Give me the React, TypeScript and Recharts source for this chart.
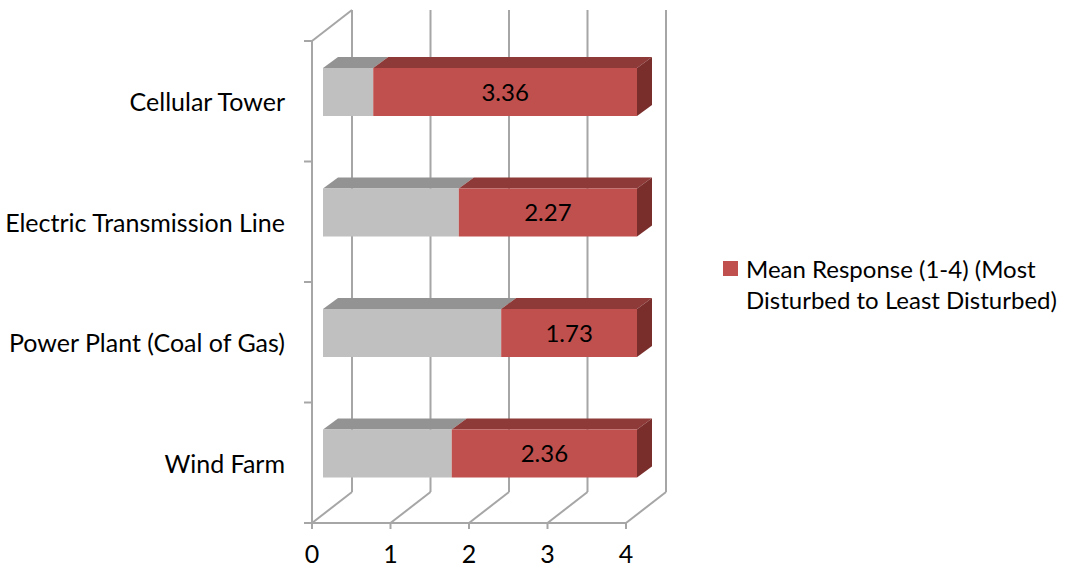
import React from 'react';
import { BarChart, Bar, XAxis, YAxis, CartesianGrid, ReferenceArea, LabelList, Legend } from 'recharts';

const categories = ['Cellular Tower', 'Electric Transmission Line', 'Power Plant (Coal of Gas)', 'Wind Farm'];
const meanValues = [3.36, 2.27, 1.73, 2.36];
const fillerValues = [0.64, 1.73, 2.27, 1.64];
const xTicks = [0, 1, 2, 3, 4];
const seriesName = 'Mean Response (1-4) (Most Disturbed to Least Disturbed)';

const data = categories.map((c, i) => ({ name: c, filler: fillerValues[i], mean: meanValues[i] }));

const FRONT = { dx: -11, dy: 9 };
const BACK = { dx: 29, dy: -22 };
const DEPTH = { dx: 15, dy: -11 };
const GRID = '#a6a6a6';
const FONT = 'Lato, "Open Sans", sans-serif';
const FS = 24;
const FS_CAT = 25;

const make3DBar = (front: string, top: string, side: string, withSide: boolean) => (props: any) => {
  const { x, y, width, height } = props;
  if (!width || !height) return null;
  const { dx, dy } = DEPTH;
  return (
    <g>
      <polygon points={`${x},${y} ${x + dx},${y + dy} ${x + width + dx},${y + dy} ${x + width},${y}`} fill={top} />
      {withSide && (
        <polygon
          points={`${x + width},${y} ${x + width + dx},${y + dy} ${x + width + dx},${y + height + dy} ${x + width},${y + height}`}
          fill={side}
        />
      )}
      <rect x={x} y={y} width={width} height={height} fill={front} />
    </g>
  );
};

const GrayBar = make3DBar('#c0c0c0', '#939393', '#7f7f7f', false);
const RedBar = make3DBar('#c0504d', '#8e3a38', '#7a2e2c', true);

const GridLineShape = (props: any) => {
  const { x1, y1, y2 } = props;
  const x = x1;
  const top = Math.min(y1, y2);
  const bottom = Math.max(y1, y2);
  return (
    <g stroke={GRID} strokeWidth={2} fill="none">
      <line x1={x + BACK.dx} y1={top + BACK.dy} x2={x + BACK.dx} y2={bottom + BACK.dy} />
      <line x1={x + FRONT.dx} y1={bottom + FRONT.dy} x2={x + BACK.dx} y2={bottom + BACK.dy} />
      <line x1={x + FRONT.dx} y1={bottom + FRONT.dy} x2={x + FRONT.dx} y2={bottom + FRONT.dy + 6} />
    </g>
  );
};

const FrameShape = (props: any) => {
  const { x, y, width, height } = props;
  const fx = x + FRONT.dx;
  const fy = y + FRONT.dy;
  const ticks = [0, 1, 2, 3, 4];
  return (
    <g stroke={GRID} strokeWidth={2} fill="none">
      <line x1={fx} y1={fy} x2={fx} y2={fy + height} />
      <line x1={fx} y1={fy} x2={x + BACK.dx} y2={y + BACK.dy} />
      <line x1={fx} y1={fy + height} x2={fx + width} y2={fy + height} />
      {ticks.map((i) => (
        <line key={i} x1={fx - 8} y1={fy + (i * height) / 4} x2={fx} y2={fy + (i * height) / 4} />
      ))}
    </g>
  );
};

const XTick = (props: any) => {
  const { x, y, payload } = props;
  return (
    <text x={x + FRONT.dx} y={y + FRONT.dy} textAnchor="middle" dominantBaseline="central" fontFamily={FONT} fontSize={FS_CAT} fill="#000">
      {payload.value}
    </text>
  );
};

const YTick = (props: any) => {
  const { x, y, payload } = props;
  return (
    <text x={x + FRONT.dx} y={y + FRONT.dy} textAnchor="end" dominantBaseline="central" fontFamily={FONT} fontSize={FS_CAT} fill="#000">
      {payload.value}
    </text>
  );
};

const LegendContent = (props: any) => {
  const items = (props.payload || []).filter((p: any) => p.type !== 'none');
  return (
    <div>
      {items.map((p: any) => (
        <div key={p.value} style={{ display: 'flex', alignItems: 'flex-start', fontFamily: FONT, fontSize: FS, lineHeight: '31px', color: '#000' }}>
          <span style={{ width: 15, height: 15, background: p.color, marginTop: 8, marginRight: 8, flexShrink: 0, display: 'inline-block' }} />
          <div style={{ width: 330 }}>{p.value}</div>
        </div>
      ))}
    </div>
  );
};

export default function App() {
  return (
    <div style={{ position: 'absolute', left: 0, top: 0, background: '#fff' }}>
      <BarChart width={1068} height={569} data={data} layout="vertical" margin={{ top: 32, right: 431, bottom: 0, left: 0 }} barSize={48}>
        <CartesianGrid horizontal={false} vertical={GridLineShape} />
        <ReferenceArea x1={0} x2={4} shape={FrameShape} ifOverflow="visible" />
        <XAxis type="number" domain={[0, 4]} ticks={xTicks} axisLine={false} tickLine={false} tickSize={0} tickMargin={30} height={55} tick={XTick} />
        <YAxis type="category" dataKey="name" axisLine={false} tickLine={false} tickSize={0} tickMargin={27} width={323} tick={YTick} />
        <Bar dataKey="filler" stackId="a" fill="#c0c0c0" shape={GrayBar} legendType="none" isAnimationActive={false} />
        <Bar dataKey="mean" name={seriesName} stackId="a" fill="#c0504d" shape={RedBar} legendType="square" isAnimationActive={false}>
          <LabelList dataKey="mean" position="center" fill="#000" fontFamily={FONT} fontSize={FS} />
        </Bar>
        <Legend layout="vertical" align="center" verticalAlign="middle" content={LegendContent} wrapperStyle={{ left: 723, top: 253, width: 345 }} />
      </BarChart>
    </div>
  );
}
